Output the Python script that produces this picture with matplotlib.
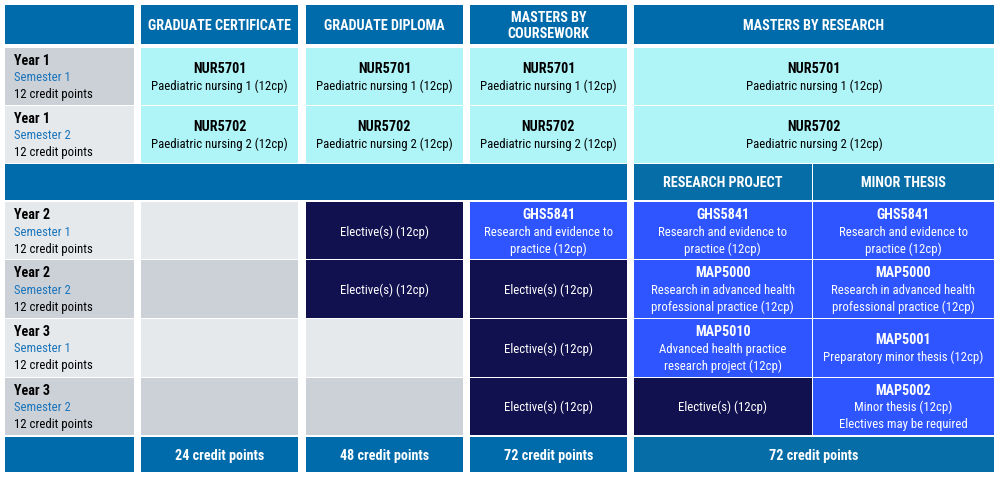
import matplotlib
matplotlib.use("Agg")
import matplotlib.pyplot as plt
from matplotlib.patches import Rectangle
from matplotlib import font_manager as fm

# ---------------- data ----------------
programs = ["GRADUATE CERTIFICATE", "GRADUATE DIPLOMA", "MASTERS BY\nCOURSEWORK", "MASTERS BY RESEARCH"]
research_streams = ["RESEARCH PROJECT", "MINOR THESIS"]
row_years = ["Year 1", "Year 1", "Year 2", "Year 2", "Year 3", "Year 3"]
row_semesters = ["Semester 1", "Semester 2", "Semester 1", "Semester 2", "Semester 1", "Semester 2"]
row_credits = ["12 credit points", "12 credit points", "12 credit points",
               "12 credit points", "12 credit points", "12 credit points"]
year1_units = [("NUR5701", "Paediatric nursing 1 (12cp)"),
               ("NUR5702", "Paediatric nursing 2 (12cp)")]
totals = ["24 credit points", "48 credit points", "72 credit points", "72 credit points"]

# later rows (Year 2 S1 .. Year 3 S2); kind: empty / elective / core
gc_units = [("empty", "", []), ("empty", "", []), ("empty", "", []), ("empty", "", [])]
gd_units = [("elective", "", ["Elective(s) (12cp)"]),
            ("elective", "", ["Elective(s) (12cp)"]),
            ("empty", "", []), ("empty", "", [])]
mbc_units = [("core", "GHS5841", ["Research and evidence to", "practice (12cp)"]),
             ("elective", "", ["Elective(s) (12cp)"]),
             ("elective", "", ["Elective(s) (12cp)"]),
             ("elective", "", ["Elective(s) (12cp)"])]
rp_units = [("core", "GHS5841", ["Research and evidence to", "practice (12cp)"]),
            ("core", "MAP5000", ["Research in advanced health", "professional practice (12cp)"]),
            ("core", "MAP5010", ["Advanced health practice", "research project (12cp)"]),
            ("elective", "", ["Elective(s) (12cp)"])]
mt_units = [("core", "GHS5841", ["Research and evidence to", "practice (12cp)"]),
            ("core", "MAP5000", ["Research in advanced health", "professional practice (12cp)"]),
            ("core", "MAP5001", ["Preparatory minor thesis (12cp)"]),
            ("core", "MAP5002", ["Minor thesis (12cp)", "Electives may be required"])]

# ---------------- layout / style ----------------
W, H = 1000, 479
HEADER_BLUE = "#006BAB"
SUB_BLUE = "#066DA6"
CYAN = "#AFF4F7"
NAVY = "#11114F"
BRIGHT = "#2E55FF"
GRAY_D = "#CCD1D8"
GRAY_L = "#E6E9EC"
SEM_BLUE = "#1B75BB"

# choose a narrow font if one is installed
FONT_NAME = "Liberation Sans"
for cand in ["Liberation Sans Narrow", "Arial Narrow", "Roboto Condensed",
             "Open Sans Condensed", "DejaVu Sans Condensed"]:
    try:
        fm.findfont(fm.FontProperties(family=cand), fallback_to_default=False)
        FONT_NAME = cand
        break
    except Exception:
        pass
FONT = [FONT_NAME, "Liberation Sans", "DejaVu Sans"]
LH = 17

fig = plt.figure(figsize=(W / 100, H / 100), dpi=100)
ax = fig.add_axes([0, 0, 1, 1])
ax.set_xlim(0, W)
ax.set_ylim(H, 0)
ax.axis("off")

# size text so that reference widths are matched
renderer = fig.canvas.get_renderer()


def fit_size(sample, target_px, bold):
    t = ax.text(0, 0, sample, fontsize=10, family=FONT,
                fontweight="bold" if bold else "normal")
    w = t.get_window_extent(renderer).width
    t.remove()
    return min(10.5, 10 * target_px / w)


FS = fit_size("Paediatric nursing 1 (12cp)", 135, False)
FSB = fit_size("GRADUATE CERTIFICATE", 142, True)

left_x = (5, 134)
col_x = [(141, 298), (306, 463), (470, 627), (634, 994)]
sub_x = [(634, 811.5), (812.5, 994)]
header_y = (5, 44)
row_y = [(48, 104.5), (105.5, 163), (202, 259), (260, 317.5), (318.5, 376.5), (377.5, 435)]
band_y = (164, 199.5)
footer_y = (437, 472)
left_shades = [GRAY_D, GRAY_L, GRAY_L, GRAY_D, GRAY_L, GRAY_D]


def box(xr, yr, color):
    ax.add_patch(Rectangle((xr[0], yr[0]), xr[1] - xr[0], yr[1] - yr[0],
                           facecolor=color, edgecolor="none"))


def put(x, y, t, bold, color, ha="center"):
    ax.text(x, y, t, ha=ha, va="center_baseline", fontsize=FSB if bold else FS,
            color=color, fontweight="bold" if bold else "normal", family=FONT)


def lines_centered(xr, yr, lines, color, lh=LH):
    cx = (xr[0] + xr[1]) / 2
    cy = (yr[0] + yr[1]) / 2
    n = len(lines)
    for i, (t, b) in enumerate(lines):
        put(cx, cy + (i - (n - 1) / 2) * lh, t, b, color)


# header row
box(left_x, header_y, HEADER_BLUE)
for xr, name in zip(col_x, programs):
    box(xr, header_y, HEADER_BLUE)
    lines_centered(xr, header_y, [(p, True) for p in name.split("\n")], "white", lh=16)

# left labels
for i, yr in enumerate(row_y):
    box(left_x, yr, left_shades[i])
    cy = (yr[0] + yr[1]) / 2
    put(14, cy - LH, row_years[i], True, "black", ha="left")
    put(14, cy, row_semesters[i], False, SEM_BLUE, ha="left")
    put(14, cy + LH, row_credits[i], False, "black", ha="left")

# year 1 rows
for r in range(2):
    code, desc = year1_units[r]
    for xr in col_x:
        box(xr, row_y[r], CYAN)
        lines_centered(xr, row_y[r], [(code, True), (desc, False)], "black")

# band row
box((left_x[0], col_x[2][1]), band_y, HEADER_BLUE)
for xr, name in zip(sub_x, research_streams):
    box(xr, band_y, SUB_BLUE)
    lines_centered(xr, band_y, [(name, True)], "white")

# later rows
later_cols = [(col_x[0], gc_units), (col_x[1], gd_units), (col_x[2], mbc_units),
              (sub_x[0], rp_units), (sub_x[1], mt_units)]
for xr, units in later_cols:
    for k, (kind, code, desc) in enumerate(units):
        r = k + 2
        yr = row_y[r]
        if kind == "empty":
            box(xr, yr, left_shades[r])
        elif kind == "elective":
            box(xr, yr, NAVY)
            lines_centered(xr, yr, [(d, False) for d in desc], "white")
        else:
            box(xr, yr, BRIGHT)
            lines_centered(xr, yr, [(code, True)] + [(d, False) for d in desc], "white")

# footer
box(left_x, footer_y, HEADER_BLUE)
for i, (xr, t) in enumerate(zip(col_x, totals)):
    box(xr, footer_y, SUB_BLUE if i == 3 else HEADER_BLUE)
    lines_centered(xr, footer_y, [(t, True)], "white")

fig.savefig("out.png", dpi=100, facecolor="white")
